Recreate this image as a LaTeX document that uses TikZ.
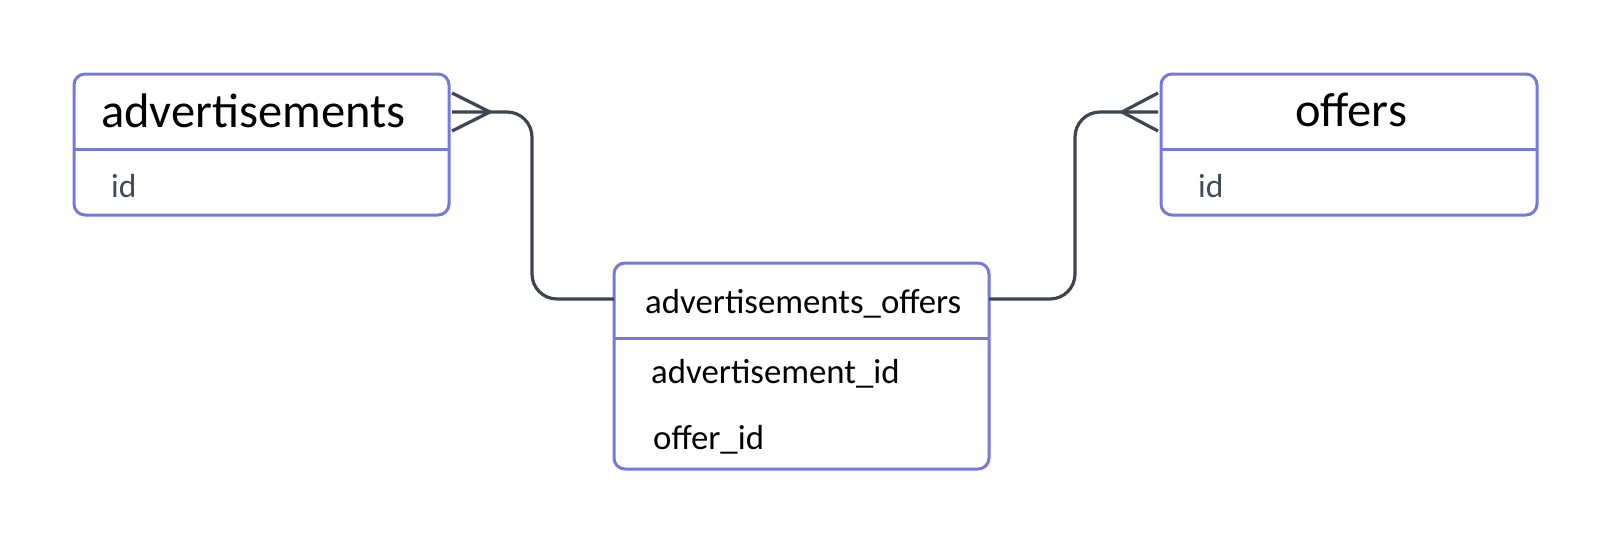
\documentclass[tikz,border=0pt]{standalone}
\usepackage{fontspec}
\setmainfont{Carlito}
\definecolor{ent}{RGB}{117,121,217}
\definecolor{rel}{RGB}{62,69,80}
\definecolor{attr}{RGB}{64,74,90}
\begin{document}
\begin{tikzpicture}[x=1pt,y=-1pt,
  entity/.style={draw=ent, line width=3pt, rounded corners=11pt, fill=white, inner sep=0pt, outer sep=0pt},
  divider/.style={draw=ent, line width=3pt},
  relline/.style={draw=rel, line width=3.2pt},
  bigtitle/.style={inner sep=0pt, font=\fontsize{48.5}{56}\selectfont, text=black},
  smalltitle/.style={inner sep=0pt, font=\fontsize{34.8}{40}\selectfont, text=black},
  attrtxt/.style={inner sep=0pt, font=\fontsize{33.5}{40}\selectfont, text=attr},
  attrblack/.style={inner sep=0pt, font=\fontsize{34.8}{40}\selectfont, text=black}]
\useasboundingbox (0,0) rectangle (1613,544);
\fill[white] (0,0) rectangle (1613,544);

% entities
\node[entity, anchor=north west, minimum width=375pt, minimum height=141pt] (adv) at (74,74) {};
\node[entity, anchor=north west, minimum width=376pt, minimum height=141pt] (off) at (1161,74) {};
\node[entity, anchor=north west, minimum width=375pt, minimum height=206pt] (link) at (614,263) {};

% dividers
\draw[divider] (adv.west |- 0,149) -- (adv.east |- 0,149);
\draw[divider] (off.west |- 0,149) -- (off.east |- 0,149);
\draw[divider] (link.west |- 0,338) -- (link.east |- 0,338);

% texts
\node[bigtitle, anchor=base west] (advt) at (101,127) {advertisements};
\node[bigtitle, anchor=base] (offt) at (1351,126) {offers};
\node[attrtxt, anchor=base west] (advid) at (111,197) {id};
\node[attrtxt, anchor=base west] (offid) at (1198,197) {id};
\node[smalltitle, anchor=base west] (linkt) at (645,313) {advertisements\_offers};
\node[attrblack, anchor=base west] (linka) at (651,383) {advertisement\_id};
\node[attrblack, anchor=base west] (linko) at (653,449) {offer\_id};

% connector coordinates
\coordinate (lfoot) at (490,112);
\coordinate (lbend1) at (532,112);
\coordinate (lbend2) at (532,299);
\coordinate (rfoot) at (1122,112);
\coordinate (rbend1) at (1075,112);
\coordinate (rbend2) at (1075,299);

% left relationship
\draw[relline] ([xshift=3pt]adv.east |- 0,93) -- (lfoot);
\draw[relline] ([xshift=3pt]adv.east |- 0,131) -- (lfoot);
\draw[relline, rounded corners=25pt] ([xshift=3pt]adv.east |- lfoot) -- (lbend1) -- (lbend2) -- (link.west |- lbend2);

% right relationship
\draw[relline] ([xshift=-3pt]off.west |- 0,93) -- (rfoot);
\draw[relline] ([xshift=-3pt]off.west |- 0,131) -- (rfoot);
\draw[relline, rounded corners=25pt] ([xshift=-3pt]off.west |- rfoot) -- (rbend1) -- (rbend2) -- (link.east |- rbend2);
\end{tikzpicture}
\end{document}
